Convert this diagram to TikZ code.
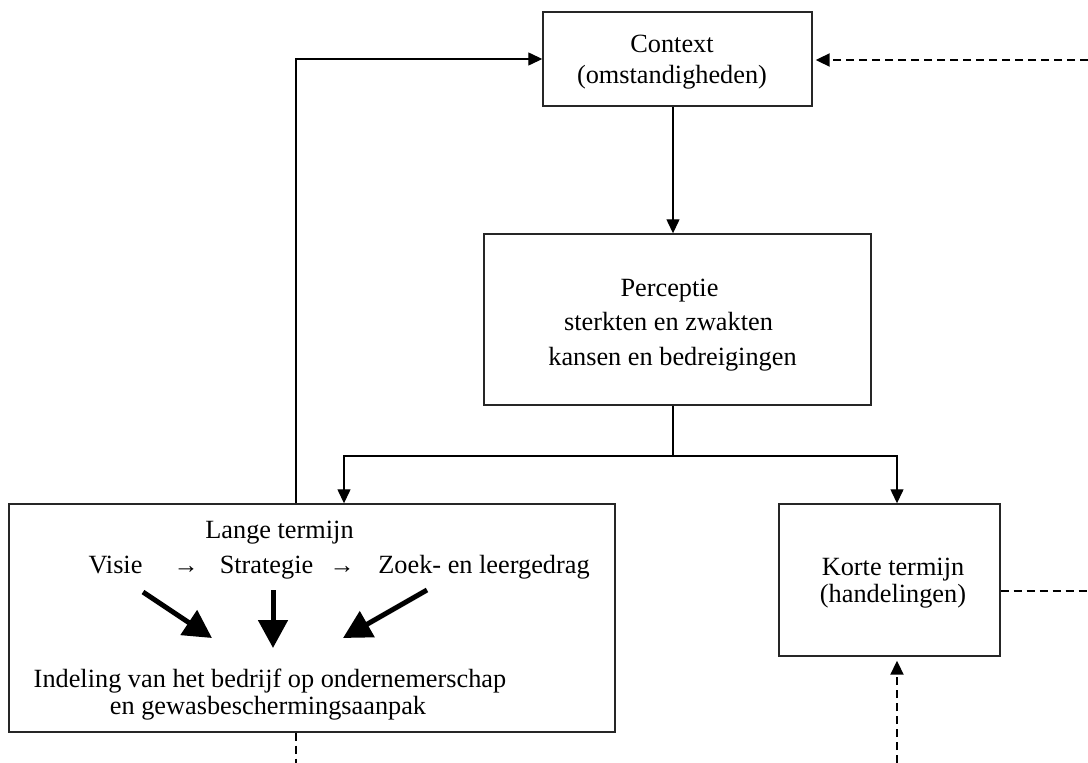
\documentclass[tikz,border=0pt]{standalone}
\usepackage{fontspec}
\setmainfont{Liberation Serif}
\usetikzlibrary{arrows.meta}
\begin{document}
\begin{tikzpicture}[x=1pt,y=-1pt,
  box/.style={draw=black!85, line width=1.4pt, inner sep=0pt},
  lbl/.style={anchor=base, inner sep=0pt, font=\fontsize{26.3}{30}\selectfont},
  smallarrow/.style={anchor=base, inner sep=0pt, font=\fontsize{25}{25}\selectfont},
  flow/.style={line width=1.3pt, -{Triangle[length=14pt,width=13pt]}},
  plainline/.style={line width=1.3pt},
  feedback/.style={line width=2pt, dash pattern=on 8pt off 5pt, -{Triangle[length=14pt,width=13pt]}},
  feedbackline/.style={line width=2pt, dash pattern=on 8pt off 5pt},
  bigarrow/.style={line width=5pt, -{Triangle[length=28pt,width=29pt]}}]
\useasboundingbox (0,0) rectangle (1088,763);

% boxes
\node[box, minimum width=269pt, minimum height=94pt]  (context) at (677.5,59)  {};
\node[box, minimum width=387pt, minimum height=171pt] (perc)    at (677.5,319.5) {};
\node[box, minimum width=606pt, minimum height=228pt] (lange)   at (312,618)   {};
\node[box, minimum width=221pt, minimum height=152pt] (korte)   at (889.5,580) {};

% box texts
\node[lbl] (ctx1) at (672,52) {Context};
\node[lbl] (ctx2) at (672,83) {(omstandigheden)};

\node[lbl] (per1) at (669.5,296) {Perceptie};
\node[lbl] (per2) at (668.5,330) {sterkten en zwakten};
\node[lbl] (per3) at (672.5,365) {kansen en bedreigingen};

\node[lbl] (lt)    at (279.5,538) {Lange termijn};
\node[lbl] (visie) at (115.5,573) {Visie};
\node[smallarrow] (ar1) at (186,573) {→};
\node[lbl] (strat) at (266.5,573) {Strategie};
\node[smallarrow] (ar2) at (342,573) {→};
\node[lbl] (zoek)  at (484,573) {Zoek- en leergedrag};
\node[lbl] (ind1)  at (270,687) {Indeling van het bedrijf op ondernemerschap};
\node[lbl] (ind2)  at (268,714) {en gewasbeschermingsaanpak};

\node[lbl] (kt1) at (893,575) {Korte termijn};
\node[lbl] (kt2) at (893,602) {(handelingen)};

% main flow
\draw[flow] ([xshift=-4.5pt]context.south) -- ([xshift=-4.5pt]perc.north);
\coordinate (split) at (673,456);
\draw[plainline] ([xshift=-4.5pt]perc.south) -- (split);
\draw[flow] (split) -| ([xshift=32pt]lange.north);
\draw[flow] (split) -| ([xshift=7.5pt]korte.north);
\draw[flow] ([xshift=-16pt]lange.north) |- (context.west);

% feedback (dashed)
\coordinate (ctxin) at (1088,60);
\draw[feedback, shorten >=3pt] (ctxin) -- (ctxin -| context.east);
\coordinate (kout) at (1088,591);
\draw[feedbackline] (korte.east |- kout) -- (kout);
\coordinate (kin) at (897,763);
\draw[feedback, shorten >=4pt] (kin) -- (kin |- korte.south);
\coordinate (lout) at (296,763);
\draw[feedbackline] (lout |- lange.south) -- (lout);

% bold arrows inside the long-term box
\coordinate (va) at (143,592);  \coordinate (vb) at (212,638);
\coordinate (sa) at (273,590);  \coordinate (sb) at (273,648);
\coordinate (za) at (427,590);  \coordinate (zb) at (343,638);
\draw[bigarrow] (va) -- (vb);
\draw[bigarrow] (sa) -- (sb);
\draw[bigarrow] (za) -- (zb);
\end{tikzpicture}
\end{document}
